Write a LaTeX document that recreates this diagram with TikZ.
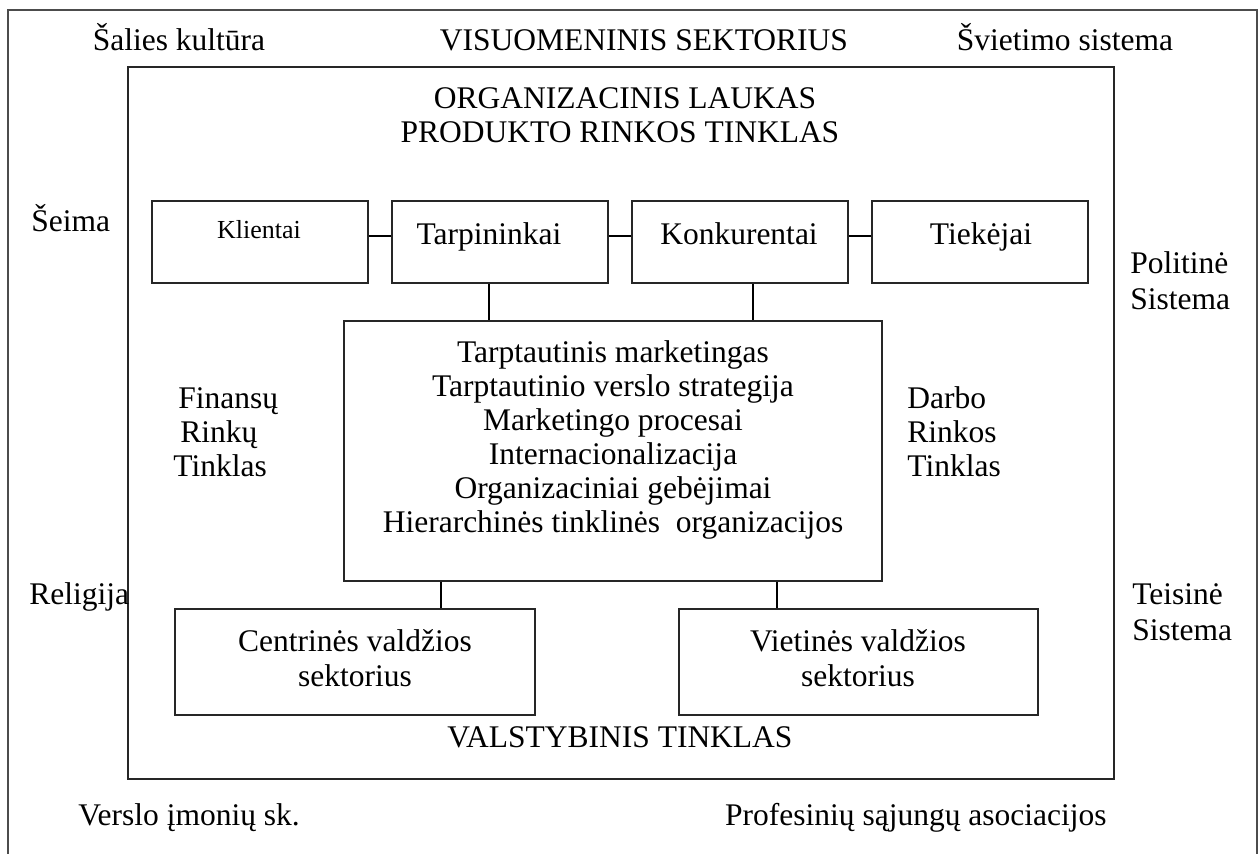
\documentclass[tikz,border=0pt]{standalone}
\usepackage{fontspec}
\setmainfont{Liberation Serif}
\begin{document}
\begin{tikzpicture}[x=0.5pt,y=-0.5pt,
  txt/.style={font=\fontsize{15.75}{18.4}\selectfont, inner sep=0pt},
  small/.style={font=\fontsize{13}{15}\selectfont, inner sep=0pt},
  box/.style={draw=black!85, line width=0.75pt, inner sep=0pt},
  frame/.style={draw=black!70, line width=0.75pt},
  link/.style={draw=black, line width=1pt}]
\useasboundingbox (0,0) rectangle (1260,854);

% outer field (open at the bottom) and organisational field
\draw[frame] (8,854) -- (8,10) -- (1257,10) -- (1257,854);
\draw[box] (128,67) rectangle (1114,779);

% surrounding institutions
\node[txt,anchor=base] (kult) at (179,51) {Šalies kultūra};
\node[txt,anchor=base] (visuom) at (644,51) {VISUOMENINIS SEKTORIUS};
\node[txt,anchor=base] (sviet) at (1065,51) {Švietimo sistema};
\node[txt,anchor=base west] (seima) at (31,232) {Šeima};
\node[txt,anchor=base west] (polit1) at (1130,274) {Politinė};
\node[txt,anchor=base west] (polit2) at (1130,310) {Sistema};
\node[txt,anchor=base west] (relig) at (29,605) {Religija};
\node[txt,anchor=base west] (teis1) at (1132,605) {Teisinė};
\node[txt,anchor=base west] (teis2) at (1132,641) {Sistema};
\node[txt,anchor=base west] (verslo) at (78,826) {Verslo įmonių sk.};
\node[txt,anchor=base east] (profs) at (1107,826) {Profesinių sąjungų asociacijos};

% field titles
\node[txt,anchor=base] (org1) at (625,109) {ORGANIZACINIS LAUKAS};
\node[txt,anchor=base] (org2) at (620,143) {PRODUKTO RINKOS TINKLAS};
\node[txt,anchor=base] (valst) at (620,748) {VALSTYBINIS TINKLAS};

% product market network
\node[box,minimum width=108pt,minimum height=41pt] (klient) at (260,242) {};
\node[box,minimum width=108pt,minimum height=41pt] (tarp) at (500,242) {};
\node[box,minimum width=108pt,minimum height=41pt] (konk) at (740,242) {};
\node[box,minimum width=108pt,minimum height=41pt] (tiek) at (980,242) {};
\node[small,anchor=base] (klientT) at (259,239) {Klientai};
\node[txt,anchor=base] (tarpT) at (489,245) {Tarpininkai};
\node[txt,anchor=base] (konkT) at (739,245) {Konkurentai};
\node[txt,anchor=base] (tiekT) at (981,245) {Tiekėjai};

% core of the firm
\node[box,minimum width=269pt,minimum height=130pt] (core) at (613,451) {};
\foreach \t [count=\i] in {Tarptautinis marketingas,
    Tarptautinio verslo strategija,
    Marketingo procesai,
    Internacionalizacija,
    Organizaciniai gebėjimai,
    Hierarchinės tinklinės\ \ organizacijos}
  \node[txt,anchor=base] (core\i) at (613,{363+34*(\i-1)}) {\t};

% side networks
\node[txt,anchor=base west] (fin1) at (178,409) {Finansų};
\node[txt,anchor=base west] (fin2) at (180,443) {Rinkų};
\node[txt,anchor=base west] (fin3) at (173,477) {Tinklas};
\node[txt,anchor=base west] (darb1) at (907,409) {Darbo};
\node[txt,anchor=base west] (darb2) at (907,443) {Rinkos};
\node[txt,anchor=base west] (darb3) at (907,477) {Tinklas};

% government sectors
\node[box,minimum width=180pt,minimum height=53pt] (centr) at (355,662) {};
\node[box,minimum width=179.5pt,minimum height=53pt] (vietin) at (858.5,662) {};
\node[txt,anchor=base] (centrT1) at (355,652) {Centrinės valdžios};
\node[txt,anchor=base] (centrT2) at (355,687) {sektorius};
\node[txt,anchor=base] (vietinT1) at (858,652) {Vietinės valdžios};
\node[txt,anchor=base] (vietinT2) at (858,687) {sektorius};

% connectors
\draw[link] (klient.east |- 0,236) -- (tarp.west |- 0,236);
\draw[link] (tarp.east |- 0,236) -- (konk.west |- 0,236);
\draw[link] (konk.east |- 0,236) -- (tiek.west |- 0,236);
\draw[link] (tarp.south -| 489,0) -- (core.north -| 489,0);
\draw[link] (konk.south -| 753,0) -- (core.north -| 753,0);
\draw[link] (core.south -| 441,0) -- (centr.north -| 441,0);
\draw[link] (core.south -| 777,0) -- (vietin.north -| 777,0);
\end{tikzpicture}
\end{document}
